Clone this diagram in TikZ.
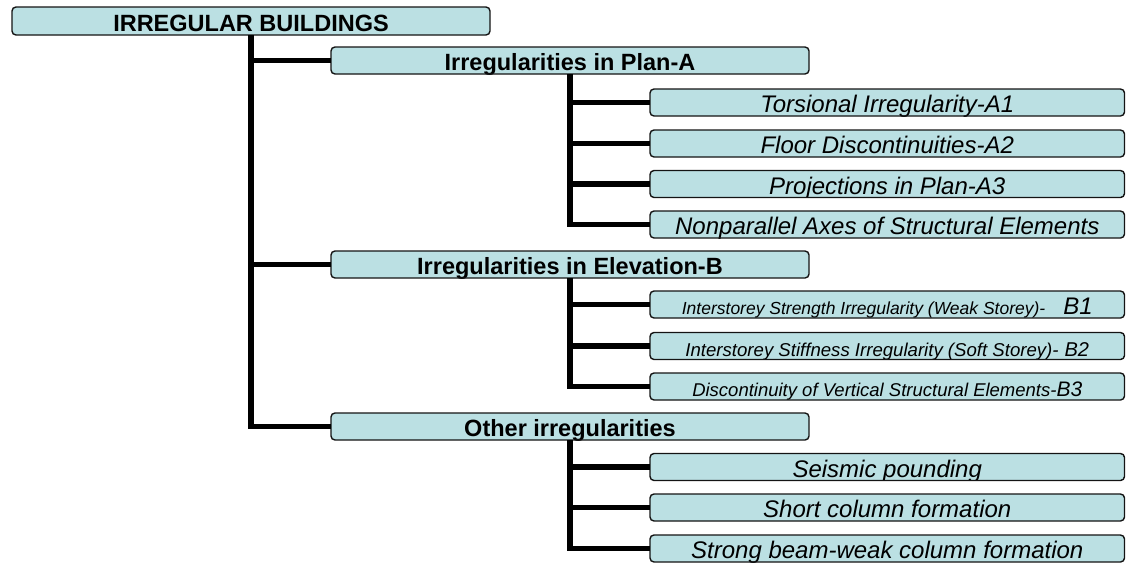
\documentclass[tikz,border=0pt]{standalone}
\usepackage{fontspec}
\setmainfont{Liberation Sans}
\definecolor{boxfill}{RGB}{187,224,227}
\definecolor{boxline}{RGB}{20,20,20}
\newcommand\fsz[1]{\fontsize{#1}{#1}\selectfont}
\tikzset{
  box/.style={draw=boxline, line width=1.4pt, fill=boxfill, rounded corners=4pt,
    inner sep=0pt, outer sep=0pt, minimum height=27pt},
  rootbox/.style={box, minimum width=478pt, minimum height=28pt},
  midbox/.style={box, minimum width=478pt},
  leafbox/.style={box, minimum width=474.5pt},
  cliptext/.style 2 args={path picture={\node[anchor=base, inner sep=0pt, font=#1]
      at ([yshift=3.5pt]path picture bounding box.south) {#2};}},
  conn/.style={line width=5.5pt, black},
}
\begin{document}
\begin{tikzpicture}[x=1pt,y=-1pt]
\useasboundingbox (0,0) rectangle (1126,562);
% root
\node[rootbox, cliptext={\fsz{23.5}\bfseries}{IRREGULAR BUILDINGS}] (root) at (251,21) {};
% level 2
\node[midbox, cliptext={\fsz{23.5}\bfseries}{Irregularities in Plan-A}] (plan) at (570,60.5) {};
\node[midbox, cliptext={\fsz{23.5}\bfseries}{Irregularities in Elevation-B}] (elev) at (570,264.5) {};
\node[midbox, cliptext={\fsz{23.5}\bfseries}{Other irregularities}] (other) at (570,426.5) {};
% level 3 (plan)
\node[leafbox, cliptext={\fsz{24}\itshape}{Torsional Irregularity-A1}] (a1) at (887.25,102.5) {};
\node[leafbox, cliptext={\fsz{24}\itshape}{Floor Discontinuities-A2}] (a2) at (887.25,143.5) {};
\node[leafbox, cliptext={\fsz{24}\itshape}{Projections in Plan-A3}] (a3) at (887.25,184) {};
\node[leafbox, cliptext={\fsz{24}\itshape}{Nonparallel Axes of Structural Elements}] (a4) at (887.25,224.5) {};
% level 3 (elevation)
\node[leafbox, cliptext={\itshape}{{\fsz{17.5}Interstorey Strength Irregularity (Weak Storey)-}\hspace{18pt}{\fsz{24}B1}}] (b1) at (887.25,304.5) {};
\node[leafbox, cliptext={\itshape}{{\fsz{18.6}Interstorey Stiffness Irregularity (Soft Storey)-}\hspace{6pt}{\fsz{20}B2}}] (b2) at (887.25,346) {};
\node[leafbox, cliptext={\itshape}{{\fsz{18.5}Discontinuity of Vertical Structural Elements-}{\fsz{21}B3}}] (b3) at (887.25,386.5) {};
% level 3 (other)
\node[leafbox, cliptext={\fsz{24}\itshape}{Seismic pounding}] (c1) at (887.25,467) {};
\node[leafbox, cliptext={\fsz{24}\itshape}{Short column formation}] (c2) at (887.25,507.5) {};
\node[leafbox, cliptext={\fsz{24}\itshape}{Strong beam-weak column formation}] (c3) at (887.25,548.5) {};
% connectors
\draw[conn] (root.south) |- (plan.west);
\draw[conn] (root.south) |- (elev.west);
\draw[conn] (root.south) |- (other.west);
\foreach \n in {a1,a2,a3,a4} \draw[conn] (plan.south) |- (\n.west);
\foreach \n in {b1,b2,b3} \draw[conn] (elev.south) |- (\n.west);
\foreach \n in {c1,c2,c3} \draw[conn] (other.south) |- (\n.west);
\end{tikzpicture}
\end{document}
